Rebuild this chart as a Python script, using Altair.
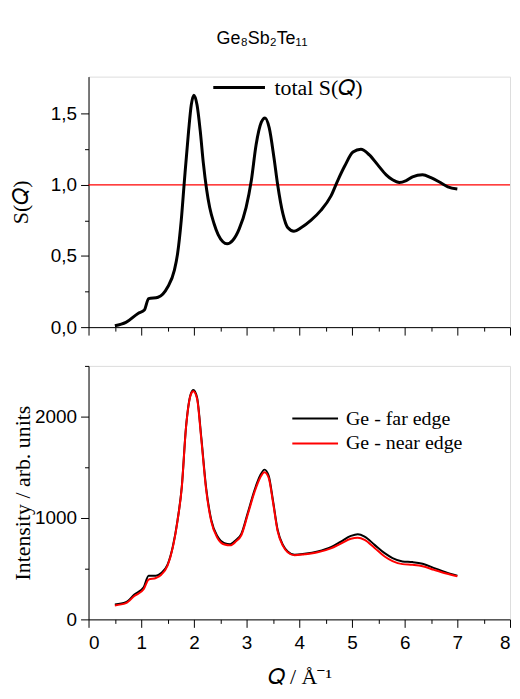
import altair as alt
import pandas as pd

# ---- data ----
q_s = [0.5, 0.71, 0.94, 1.06, 1.14, 1.32, 1.5, 1.63, 1.69, 1.76, 1.82, 1.9, 1.95, 2.0, 2.06,
       2.12, 2.18, 2.24, 2.3, 2.38, 2.46, 2.55, 2.63, 2.74, 2.86, 2.99, 3.09, 3.18, 3.28, 3.35,
       3.43, 3.52, 3.59, 3.69, 3.78, 3.9, 4.04, 4.22, 4.41, 4.6, 4.73, 4.86, 5.02, 5.17, 5.33,
       5.49, 5.65, 5.77, 5.9, 6.03, 6.15, 6.34, 6.5, 6.66, 6.82, 7.0]
s_total = [0.01, 0.033, 0.096, 0.12, 0.2, 0.21, 0.28, 0.4, 0.515, 0.75, 1.03, 1.38, 1.56, 1.63, 1.56,
           1.38, 1.15, 0.97, 0.84, 0.73, 0.65, 0.6, 0.585, 0.61, 0.69, 0.84, 1.03, 1.28, 1.44, 1.47,
           1.4, 1.19, 1.0, 0.795, 0.70, 0.674, 0.70, 0.75, 0.82, 0.92, 1.03, 1.13, 1.23, 1.25, 1.21,
           1.14, 1.07, 1.035, 1.016, 1.03, 1.056, 1.07, 1.05, 1.02, 0.986, 0.97]

q_i = [0.5, 0.71, 0.87, 1.05, 1.14, 1.28, 1.38, 1.5, 1.6, 1.69, 1.77, 1.85, 1.94, 1.99, 2.06, 2.14,
       2.23, 2.33, 2.45, 2.58, 2.69, 2.8, 2.9, 3.02, 3.15, 3.26, 3.34, 3.42, 3.5, 3.59, 3.69, 3.78,
       3.91, 4.1, 4.35, 4.6, 4.79, 4.98, 5.11, 5.24, 5.43, 5.62, 5.77, 5.96, 6.15, 6.34, 6.56, 6.79, 7.0]
i_far = [147, 170, 245, 320, 431, 431, 457, 539, 719, 980, 1307, 1895, 2222, 2262, 2189, 1797,
         1307, 980, 817, 752, 742, 784, 843, 1046, 1274, 1421, 1477, 1415, 1176, 882, 735, 670,
         637, 647, 670, 712, 768, 823, 840, 817, 735, 653, 605, 572, 565, 549, 506, 464, 431]
i_near = [138, 160, 230, 300, 392, 408, 440, 530, 710, 975, 1300, 1890, 2215, 2250, 2175, 1780,
          1290, 965, 800, 738, 730, 770, 830, 1030, 1255, 1400, 1450, 1395, 1160, 870, 725, 662,
          632, 642, 662, 700, 748, 795, 805, 785, 705, 620, 575, 545, 538, 525, 488, 452, 425]

top_series = ["total S(𝑄)"]
bottom_series = ["Ge - far edge", "Ge - near edge"]
ref_line = [1.0]

x_major = [0, 1, 2, 3, 4, 5, 6, 7, 8]
x_minor = [0.5, 1.5, 2.5, 3.5, 4.5, 5.5, 6.5, 7.5]
s_major = [0, 0.5, 1.0, 1.5]
s_minor = [0.25, 0.75, 1.25]
i_major = [0, 1000, 2000]
i_minor = [500, 1500, 2500]

# ---- tables ----
sdf = pd.DataFrame({"Q": q_s, "S": s_total, "series": top_series[0]})
idf = pd.concat([
    pd.DataFrame({"Q": q_i, "I": i_far, "series": bottom_series[0]}),
    pd.DataFrame({"Q": q_i, "I": i_near, "series": bottom_series[1]}),
], ignore_index=True)
rdf = pd.DataFrame({"S": ref_line})

SANS = "Liberation Sans"
SERIF = "Liberation Serif"
W = 424

xs = alt.Scale(domain=[0, 8], nice=False, zero=False)
ys_top = alt.Scale(domain=[0, 1.76], nice=False)
ys_bot = alt.Scale(domain=[0, 2500], nice=False)

common = dict(grid=False, domainColor="black", tickColor="black", labelColor="black",
              titleColor="black", tickWidth=1, domainWidth=1)


def minor_axis(vals, orient):
    return alt.Axis(values=vals, labels=False, tickSize=4, domain=False, title=None,
                    orient=orient, grid=False, tickColor="black", tickWidth=1)


# ---- top panel ----
top_line = alt.Chart(sdf).mark_line(strokeWidth=3, interpolate="monotone").encode(
    x=alt.X("Q:Q", scale=xs,
            axis=alt.Axis(values=x_major, labels=False, tickSize=8, title=None, orient="bottom", **common)),
    y=alt.Y("S:Q", scale=ys_top,
            axis=alt.Axis(values=s_major, format=".1f", labelExpr="replace(datum.label, '.', ',')",
                          tickSize=8, labelPadding=4, labelFont=SANS, labelFontSize=19,
                          title="S(𝑄)", titleFont=SERIF, titleFontSize=22, titleFontWeight="normal",
                          titlePadding=18, orient="left", **common)),
    color=alt.Color("series:N", scale=alt.Scale(domain=top_series, range=["black"]),
                    legend=alt.Legend(title=None, orient="none", legendX=124, legendY=0,
                                      symbolType="stroke", symbolSize=2704, symbolStrokeWidth=3,
                                      clipHeight=22, labelFont=SERIF, labelFontSize=22,
                                      labelColor="black", labelOffset=8, padding=0)),
)
top_rule = alt.Chart(rdf).mark_rule(color="red", strokeWidth=1.3).encode(
    y=alt.Y("S:Q", scale=ys_top, axis=None)
)
top_minor = alt.Chart(sdf).mark_point(opacity=0).encode(
    x=alt.X("Q:Q", scale=xs, axis=minor_axis(x_minor, "bottom")),
    y=alt.Y("S:Q", scale=ys_top, axis=minor_axis(s_minor, "left")),
)
top = alt.layer(top_rule, top_minor, top_line).resolve_axis(x="independent", y="independent").properties(
    width=W, height=252)

# ---- bottom panel ----
bot_line = alt.Chart(idf).mark_line(strokeWidth=2, interpolate="monotone").encode(
    x=alt.X("Q:Q", scale=xs,
            axis=alt.Axis(values=x_major, format="d", tickSize=8, labelPadding=6, labelFont=SANS,
                          labelFontSize=19, title="𝑄 / Å⁻¹", titleFont=SERIF, titleFontSize=22,
                          titleFontWeight="normal", titlePadding=14, orient="bottom", **common)),
    y=alt.Y("I:Q", scale=ys_bot,
            axis=alt.Axis(values=i_major, format="d", tickSize=8, labelPadding=4, labelFont=SANS,
                          labelFontSize=19, title="Intensity / arb. units", titleFont=SERIF,
                          titleFontSize=22, titleFontWeight="normal", titlePadding=0,
                          orient="left", **common)),
    color=alt.Color("series:N", scale=alt.Scale(domain=bottom_series, range=["black", "red"]),
                    sort=bottom_series,
                    legend=alt.Legend(title=None, orient="none", legendX=204, legendY=43,
                                      symbolType="stroke", symbolSize=2116, symbolStrokeWidth=2,
                                      clipHeight=20, rowPadding=5, labelFont=SERIF, labelFontSize=20,
                                      labelColor="black", labelOffset=7, padding=0)),
)
bot_minor = alt.Chart(idf).mark_point(opacity=0).encode(
    x=alt.X("Q:Q", scale=xs, axis=minor_axis(x_minor, "bottom")),
    y=alt.Y("I:Q", scale=ys_bot, axis=minor_axis(i_minor, "left")),
)
bottom = alt.layer(bot_minor, bot_line).resolve_axis(x="independent", y="independent").properties(
    width=W, height=255)

chart = alt.vconcat(top, bottom, spacing=27).resolve_scale(color="independent").properties(
    title=alt.TitleParams("Ge₈Sb₂Te₁₁", font=SANS, fontSize=18, fontWeight="normal", color="black",
                          anchor="middle", offset=28, dx=2),
    padding={"left": 1, "top": 20, "right": 0, "bottom": 0},
).configure_view(stroke=None).configure(background="white")

chart.save("out.html", embed_options={"renderer": "svg", "actions": False})
